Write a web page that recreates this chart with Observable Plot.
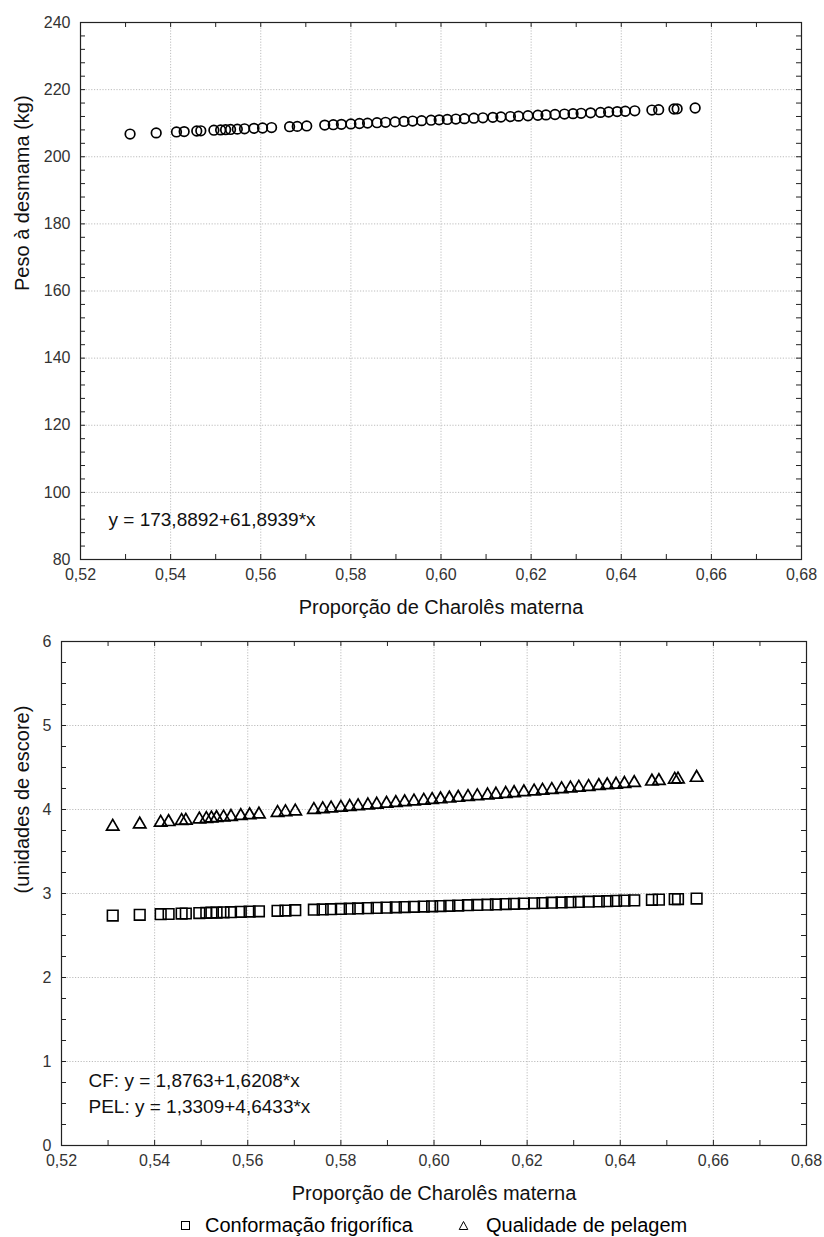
<!DOCTYPE html>
<html>
<head>
<meta charset="utf-8">
<script src="https://cdn.jsdelivr.net/npm/d3@7"></script>
<script src="https://cdn.jsdelivr.net/npm/@observablehq/plot@0.6"></script>
<style>
  body { margin: 0; background: #fff; font-family: "Liberation Sans", Arial, sans-serif; }
  #legend { position: relative; width: 824px; height: 22px; font: 20px "Liberation Sans", Arial, sans-serif; color: #000; }
  #legend span, #legend svg { position: absolute; }
</style>
</head>
<body>
<div id="top"></div>
<div id="bottom"></div>
<div id="legend"></div>
<script>
// ---- Data ----
const propCharoles = [0.5310,0.5368,0.5413,0.5430,0.5458,0.5467,0.5496,0.5511,0.5522,0.5533,0.5548,0.5564,0.5585,0.5604,0.5624,0.5664,0.5681,0.5702,0.5742,0.5761,0.5779,0.5800,0.5819,0.5837,0.5858,0.5877,0.5898,0.5918,0.5937,0.5957,0.5978,0.5996,0.6014,0.6033,0.6052,0.6073,0.6093,0.6115,0.6133,0.6154,0.6172,0.6193,0.6215,0.6233,0.6253,0.6274,0.6293,0.6311,0.6332,0.6354,0.6372,0.6391,0.6409,0.6430,0.6468,0.6483,0.6517,0.6524,0.6564];
const pesoDesmama = [206.76,207.11,207.39,207.50,207.67,207.73,207.91,208.00,208.07,208.14,208.23,208.33,208.46,208.57,208.70,208.95,209.05,209.18,209.43,209.55,209.66,209.79,209.91,210.02,210.15,210.26,210.39,210.52,210.64,210.76,210.89,211.00,211.11,211.23,211.35,211.48,211.60,211.74,211.85,211.98,212.09,212.22,212.36,212.47,212.59,212.72,212.84,212.95,213.08,213.22,213.33,213.45,213.56,213.69,213.92,214.02,214.23,214.27,214.52];
const conformacao = [2.737,2.746,2.754,2.756,2.761,2.762,2.767,2.770,2.771,2.773,2.776,2.778,2.782,2.785,2.788,2.794,2.797,2.801,2.807,2.810,2.813,2.816,2.819,2.822,2.826,2.829,2.832,2.836,2.839,2.842,2.845,2.848,2.851,2.854,2.857,2.861,2.864,2.867,2.870,2.874,2.877,2.880,2.884,2.887,2.890,2.893,2.896,2.899,2.903,2.906,2.909,2.912,2.915,2.918,2.925,2.927,2.933,2.934,2.940];
const pelagem = [3.797,3.823,3.844,3.852,3.865,3.869,3.883,3.890,3.895,3.900,3.907,3.914,3.924,3.933,3.942,3.961,3.969,3.979,3.997,4.006,4.014,4.024,4.033,4.041,4.051,4.060,4.070,4.079,4.088,4.097,4.107,4.115,4.123,4.132,4.141,4.151,4.160,4.170,4.179,4.188,4.197,4.207,4.217,4.225,4.234,4.244,4.253,4.261,4.271,4.281,4.290,4.298,4.307,4.317,4.334,4.341,4.357,4.360,4.379];

const xTicks = [0.52,0.54,0.56,0.58,0.60,0.62,0.64,0.66,0.68];
const yTicksPeso = [80,100,120,140,160,180,200,220,240];
const yTicksEscore = [0,1,2,3,4,5,6];
const xTitle = "Proporção de Charolês materna";
const yTitlePeso = "Peso à desmama (kg)";
const yTitleEscore = "(unidades de escore)";
const eqPeso = ["y = 173,8892+61,8939*x"];
const eqEscore = ["CF: y = 1,8763+1,6208*x", "PEL: y = 1,3309+4,6433*x"];
const legendLabels = ["Conformação frigorífica", "Qualidade de pelagem"];

// minor tick positions (every 0.01 on x)
const xMinor = d3.range(0, 17).map(i => 0.52 + i * 0.01);

const fmtX = d => d.toFixed(2).replace(".", ",");
const fmtY = d => String(d);
const FONT = "'Liberation Sans', Arial, sans-serif";

function frameMarks(o) {
  const pw = o.width - o.ml - o.mr, ph = o.height - o.mt - o.mb;
  const t = 5;
  return [
    Plot.gridX(xTicks, {stroke: "#bdbdbd", strokeOpacity: 1, strokeDasharray: "1.2,1.6"}),
    Plot.gridY(o.yticks, {stroke: "#bdbdbd", strokeOpacity: 1, strokeDasharray: "1.2,1.6"}),
    Plot.tickX(xMinor, {x: d => d, insetTop: ph - t, stroke: "#222"}),
    Plot.tickX(xMinor, {x: d => d, insetBottom: ph - t, stroke: "#222"}),
    Plot.tickY(o.yminor, {y: d => d, insetRight: pw - t, stroke: "#222"}),
    Plot.tickY(o.yminor, {y: d => d, insetLeft: pw - t, stroke: "#222"}),
    Plot.axisX(xTicks, {tickSize: 0, tickPadding: 9, tickFormat: fmtX, fontSize: 16, fill: "#333", label: null}),
    Plot.axisY(o.yticks, {tickSize: 0, tickPadding: 10, tickFormat: fmtY, fontSize: 16, fill: "#333", label: null}),
    Plot.text([xTitle], {frameAnchor: "bottom", dy: 48, fontSize: 20, fill: "#111", lineAnchor: "middle"}),
    Plot.text([o.ytitle], {frameAnchor: "left", dx: o.ytx, rotate: -90, fontSize: 20, fill: "#111", lineAnchor: "middle"})
  ];
}

// ---- Top chart ----
const topOpts = {width: 824, height: 625, mt: 22, mb: 66, ml: 80, mr: 23,
  yticks: yTicksPeso, yminor: d3.range(0, 41).map(i => 80 + i * 4), ytitle: yTitlePeso, ytx: -58};
const topData = propCharoles.map((x, i) => ({x, y: pesoDesmama[i]}));
const topPlot = Plot.plot({
  width: topOpts.width, height: topOpts.height,
  marginTop: topOpts.mt, marginBottom: topOpts.mb, marginLeft: topOpts.ml, marginRight: topOpts.mr,
  style: {fontFamily: FONT, background: "#fff"},
  x: {domain: [0.52, 0.68], axis: null},
  y: {domain: [80, 240], axis: null},
  marks: [
    ...frameMarks(topOpts),
    Plot.frame({stroke: "#222", strokeWidth: 1.2}),
    Plot.dot(topData, {x: "x", y: "y", r: 4.8, stroke: "#000", strokeWidth: 1.7, fill: "none"}),
    Plot.text(eqPeso, {frameAnchor: "bottom-left", dx: 28, dy: -34, textAnchor: "start", fontSize: 19, fill: "#111"})
  ]
});
document.getElementById("top").append(topPlot);

// ---- Bottom chart ----
const botOpts = {width: 824, height: 590, mt: 16, mb: 70, ml: 61, mr: 18,
  yticks: yTicksEscore, yminor: d3.range(0, 25).map(i => i * 0.25), ytitle: yTitleEscore, ytx: -39};
const cfData = propCharoles.map((x, i) => ({x, y: conformacao[i]}));
const pelData = propCharoles.map((x, i) => ({x, y: pelagem[i]}));
const botPlot = Plot.plot({
  width: botOpts.width, height: botOpts.height,
  marginTop: botOpts.mt, marginBottom: botOpts.mb, marginLeft: botOpts.ml, marginRight: botOpts.mr,
  style: {fontFamily: FONT, background: "#fff"},
  x: {domain: [0.52, 0.68], axis: null},
  y: {domain: [0, 6], axis: null},
  marks: [
    ...frameMarks(botOpts),
    Plot.frame({stroke: "#222", strokeWidth: 1.2}),
    Plot.dot(cfData, {x: "x", y: "y", symbol: "square", r: 6, stroke: "#000", strokeWidth: 1.6, fill: "none"}),
    Plot.dot(pelData, {x: "x", y: "y", symbol: "triangle", r: 4.6, stroke: "#000", strokeWidth: 1.7, fill: "none"}),
    Plot.text([eqEscore[0]], {frameAnchor: "bottom-left", dx: 27, dy: -59, textAnchor: "start", fontSize: 19, fill: "#111"}),
    Plot.text([eqEscore[1]], {frameAnchor: "bottom-left", dx: 27, dy: -33, textAnchor: "start", fontSize: 19, fill: "#111"})
  ]
});
document.getElementById("bottom").append(botPlot);

// ---- Legend ----
const lg = document.getElementById("legend");
lg.innerHTML = `
  <svg width="12" height="12" style="left:180px;top:5px"><rect x="1.5" y="1.5" width="8" height="8" fill="none" stroke="#000" stroke-width="1"/></svg>
  <span style="left:205px;top:-1px">${legendLabels[0]}</span>
  <svg width="12" height="12" style="left:458px;top:5px"><path d="M5.5,1.5 L9.8,9.5 L1.2,9.5 Z" fill="none" stroke="#000" stroke-width="1"/></svg>
  <span style="left:486px;top:-1px">${legendLabels[1]}</span>`;
</script>
</body>
</html>
